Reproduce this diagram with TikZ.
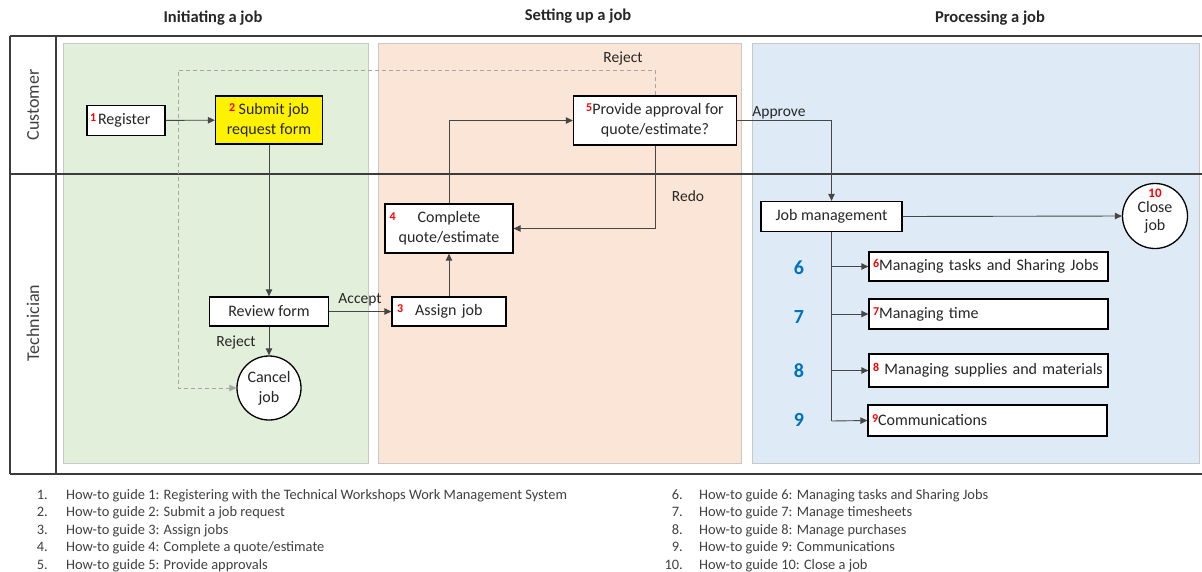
\documentclass[tikz,border=0pt]{standalone}
\usepackage{fontspec}
\setmainfont{Carlito}
\usetikzlibrary{arrows.meta}
\definecolor{gpanel}{RGB}{226,239,218}
\definecolor{opanel}{RGB}{251,229,214}
\definecolor{bpanel}{RGB}{222,235,247}
\definecolor{pborder}{RGB}{200,200,200}
\definecolor{framec}{RGB}{60,60,60}
\definecolor{linec}{RGB}{70,70,70}
\definecolor{dashc}{RGB}{165,165,165}
\definecolor{numblue}{RGB}{0,112,192}
\definecolor{txt}{RGB}{38,38,38}
\definecolor{legc}{RGB}{64,64,64}
\newcommand{\rn}[1]{\raisebox{3pt}{\fontsize{12}{12}\selectfont\bfseries\color{red}#1}}
\begin{document}
\begin{tikzpicture}[x=1pt,y=-1pt,
  box/.style={draw=black,line width=1.3pt,fill=white,inner sep=1pt,text=txt,
    font=\fontsize{16}{20}\selectfont,align=center},
  lbox/.style={box,minimum height=29pt,text width=231pt,align=left,inner xsep=4pt},
  circ/.style={circle,draw=black,line width=1.3pt,fill=white,inner sep=0pt,
    minimum size=64pt,text=txt,font=\fontsize{16}{20}\selectfont,align=center},
  conn/.style={draw=linec,line width=0.9pt,-{Triangle[length=7pt,width=6.5pt]}},
  dconn/.style={draw=dashc,line width=0.9pt,dash pattern=on 4pt off 3pt,-{Triangle[length=7pt,width=6.5pt]}},
  lbl/.style={text=txt,font=\fontsize{15.5}{17}\selectfont,inner sep=0pt},
  head/.style={text=txt,font=\fontsize{16.5}{18}\selectfont\bfseries,inner sep=0pt},
  lane/.style={text=legc,font=\fontsize{18}{20}\selectfont,rotate=90,inner sep=0pt},
  bnum/.style={text=numblue,font=\fontsize{20}{22}\selectfont\bfseries,inner sep=0pt},
  legn/.style={text=legc,font=\fontsize{14.4}{16}\selectfont,anchor=base east,inner sep=0pt},
  legt/.style={text=legc,font=\fontsize{14.4}{16}\selectfont,anchor=base west,inner sep=0pt},
  panel/.style={draw=pborder,line width=0.8pt}
]
\useasboundingbox (0,0) rectangle (1202,571);
\fill[white] (0,0) rectangle (1202,571);
% panels
\filldraw[panel,fill=gpanel] (63,43) rectangle (368,463);
\filldraw[panel,fill=opanel] (378,43) rectangle (741,463);
\filldraw[panel,fill=bpanel] (752,43) rectangle (1199,463);
% frame
\draw[framec,line width=1.4pt] (10,36) -- (1202,36);
\draw[framec,line width=1.4pt] (10,474) -- (1202,474);
\draw[framec,line width=1.2pt] (10,174) -- (1202,174);
\draw[framec,line width=1.2pt] (10,36) -- (10,474);
\draw[framec,line width=1.2pt] (56,36) -- (56,474);
% headers
\node[head] (h1) at (213,18) {Initiating a job};
\node[head] (h2) at (578,16) {Setting up a job};
\node[head] (h3) at (990,18) {Processing a job};
\node[lane] (l1) at (33,105) {Customer};
\node[lane] (l2) at (33,323) {Technician};
% nodes
\node[box,minimum height=30pt,text width=72pt,align=left,inner xsep=3pt] (reg) at (126,120.5) {\rn{1}\hspace{2pt}Register};
\node[box,fill=yellow,minimum width=107pt,minimum height=48pt] (sub) at (269,120) {\rn{2} Submit job\\request form};
\node[box,minimum width=163pt,minimum height=49pt] (prov) at (655,120.5) {\rn{5}Provide approval for\\quote/estimate?};
\node[box,minimum width=128pt,minimum height=49pt,
  label={[anchor=north west,inner sep=0pt,xshift=5pt,yshift=-9pt,font=\fontsize{12}{12}\selectfont\bfseries,text=red]north west:4}] (comp) at (449,228.5) {Complete\\quote/estimate};
\node[box,minimum height=29pt,text width=104pt,align=left,inner xsep=5pt] (asg) at (449,311.5) {\rn{3}\hspace{12pt}Assign job};
\node[box,minimum width=119pt,minimum height=29pt] (rev) at (269,311.5) {Review form};
\node[circ] (canc) at (269,388) {Cancel\\job};
\node[box,minimum width=141pt,minimum height=30pt] (jm) at (831.5,216.5) {Job management};
\node[circ,minimum size=65pt,font=\fontsize{16}{18}\selectfont] (close) at (1155,216) {{\fontsize{13}{13}\selectfont\bfseries\color{red}10}\\[-3pt]Close\\job\\[-6pt]\mbox{}};
\node[lbox] (m6) at (988.5,266.5) {\rn{6}Managing tasks and Sharing Jobs};
\node[lbox,minimum height=30pt] (m7) at (988.5,314) {\rn{7}Managing time};
\node[lbox,minimum height=33pt] (m8) at (988.5,370.5) {\rn{8} Managing supplies and materials};
\node[lbox,minimum height=31pt] (m9) at (987.5,420.5) {\rn{9}Communications};
\node[bnum] (n6) at (799,268) {6};
\node[bnum] (n7) at (799,317) {7};
\node[bnum] (n8) at (799,371) {8};
\node[bnum] (n9) at (799,420) {9};
% connectors
\coordinate (rj) at (178,70);
\coordinate (tb) at (831.5,421);
\draw[dconn] (prov.north) |- (rj) |- (canc.west);
\draw[conn] (reg) -- (sub);
\draw[conn] (sub.south) -- (rev.north);
\draw[conn] (rev.south) -- (canc.north);
\draw[conn] (rev.east) -- (asg.west);
\draw[conn] (asg.north) -- (comp.south);
\draw[conn] (comp.north) |- (prov.west);
\draw[conn] (prov.south) |- (comp.east);
\draw[conn] (prov.east) -| (jm.north);
\draw[conn] (jm.east) -- (close.west);
\draw[linec,line width=0.9pt] (jm.south) -- (tb);
\draw[conn] (jm.south |- m6.west) -- (m6.west);
\draw[conn] (jm.south |- m7.west) -- (m7.west);
\draw[conn] (jm.south |- m8.west) -- (m8.west);
\draw[conn] (tb) -- (m9.west);
% labels
\node[lbl] (t1) at (623,58) {Reject};
\node[lbl] (t2) at (688,196) {Redo};
\node[lbl] (t3) at (779,113) {Approve};
\node[lbl] (t4) at (360,300) {Accept};
\node[lbl] (t5) at (236,342) {Reject};
% legend
\node[legn] (a1) at (48,499) {1.};
\node[legt] (b1) at (66,499) {How-to guide 1: Registering with the Technical Workshops Work Management System};
\node[legn] (a2) at (48,516) {2.};
\node[legt] (b2) at (66,516) {How-to guide 2: Submit a job request};
\node[legn] (a3) at (48,534) {3.};
\node[legt] (b3) at (66,534) {How-to guide 3: Assign jobs};
\node[legn] (a4) at (48,551) {4.};
\node[legt] (b4) at (66,551) {How-to guide 4: Complete a quote/estimate};
\node[legn] (a5) at (48,569) {5.};
\node[legt] (b5) at (66,569) {How-to guide 5: Provide approvals};
\node[legn] (a6) at (683,499) {6.};
\node[legt] (b6) at (699,499) {How-to guide 6: Managing tasks and Sharing Jobs};
\node[legn] (a7) at (683,516) {7.};
\node[legt] (b7) at (699,516) {How-to guide 7: Manage timesheets};
\node[legn] (a8) at (683,534) {8.};
\node[legt] (b8) at (699,534) {How-to guide 8: Manage purchases};
\node[legn] (a9) at (683,551) {9.};
\node[legt] (b9) at (699,551) {How-to guide 9: Communications};
\node[legn] (a10) at (683,569) {10.};
\node[legt] (b10) at (699,569) {How-to guide 10: Close a job};
\end{tikzpicture}
\end{document}
